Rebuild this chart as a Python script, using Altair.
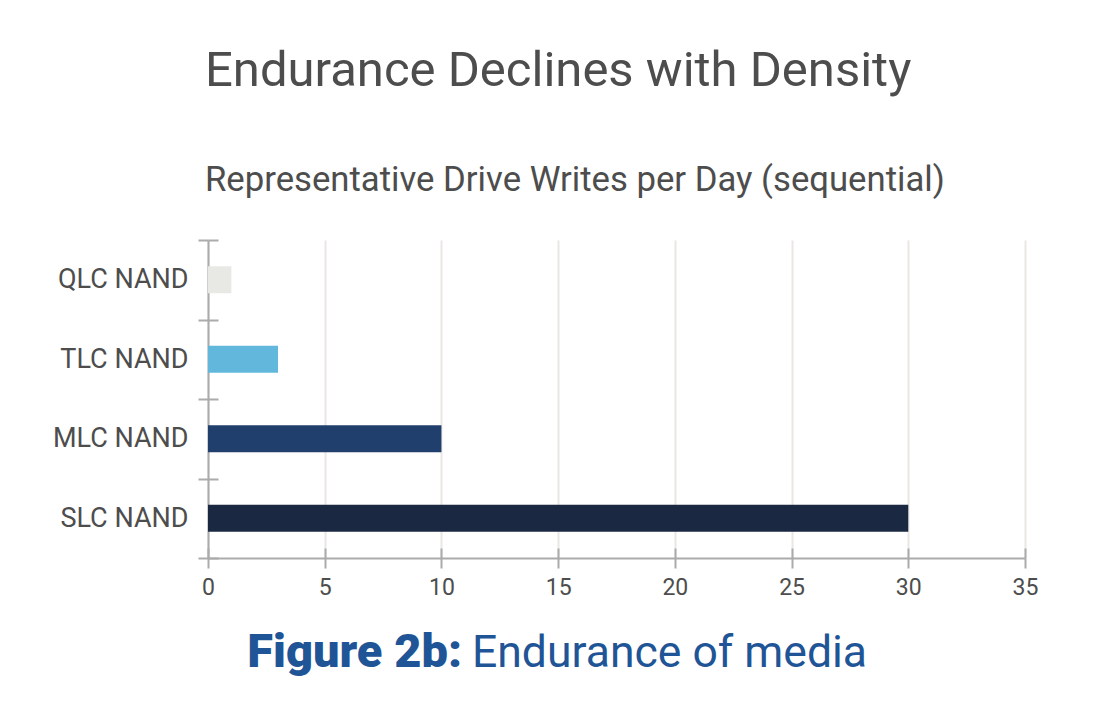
import altair as alt
import pandas as pd

categories = ["QLC NAND", "TLC NAND", "MLC NAND", "SLC NAND"]
values = [1, 3, 10, 30]
bar_colors = ["#e8e8e4", "#62b8dc", "#213f6d", "#1a2841"]
x_ticks = [0, 5, 10, 15, 20, 25, 30, 35]
title_text = "Endurance Declines with Density"
subtitle_text = "Representative Drive Writes per Day (sequential)"
caption_bold = "Figure 2b:"
caption_regular = "Endurance of media"

FONT = "Roboto"
AXIS_GRAY = "#ababab"
TEXT_GRAY = "#4d4d4d"
CAPTION_BLUE = "#1f5596"

df = pd.DataFrame({"cat": categories, "val": values})

x_scale = alt.Scale(domain=[0, 35], nice=False)
y_scale = alt.Scale(domain=categories, paddingInner=0, paddingOuter=0)

bars = alt.Chart(df).mark_bar(size=27).encode(
    x=alt.X("val:Q", scale=x_scale, title=None,
            axis=alt.Axis(orient="bottom", values=x_ticks, grid=True,
                          gridColor="#e9e7e3", gridWidth=2,
                          domainColor=AXIS_GRAY, domainWidth=2,
                          tickColor=AXIS_GRAY, tickWidth=2, tickSize=10,
                          labelFont=FONT, labelFontSize=23, labelColor=TEXT_GRAY,
                          labelFlush=False, labelPadding=8)),
    y=alt.Y("cat:N", scale=y_scale, sort=categories, title=None,
            axis=alt.Axis(orient="left", tickBand="extent", grid=False,
                          domainColor=AXIS_GRAY, domainWidth=2,
                          tickColor=AXIS_GRAY, tickWidth=2, tickSize=10,
                          labelFont=FONT, labelFontSize=27, labelColor=TEXT_GRAY,
                          labelPadding=10)),
    color=alt.Color("cat:N", scale=alt.Scale(domain=categories, range=bar_colors), legend=None),
)

inner_ticks = alt.Chart(df).mark_bar(size=27, opacity=0).encode(
    x=alt.X("val:Q", scale=x_scale, title=None,
            axis=alt.Axis(orient="bottom", offset=-10, values=x_ticks, grid=False,
                          domain=False, labels=False,
                          tickColor=AXIS_GRAY, tickWidth=2, tickSize=10)),
    y=alt.Y("cat:N", scale=y_scale, sort=categories, title=None,
            axis=alt.Axis(orient="left", offset=-10, tickBand="extent", grid=False,
                          domain=False, labels=False,
                          tickColor=AXIS_GRAY, tickWidth=2, tickSize=10)),
)

cap1 = alt.Chart(pd.DataFrame({"t": [caption_bold]})).mark_text(
    align="right", baseline="alphabetic", font=FONT, fontSize=47, fontWeight=900,
    color=CAPTION_BLUE,
).encode(x=alt.value(254), y=alt.value(427), text="t:N")

cap2 = alt.Chart(pd.DataFrame({"t": [caption_regular]})).mark_text(
    align="left", baseline="alphabetic", font=FONT, fontSize=44.5, fontWeight=400,
    color=CAPTION_BLUE,
).encode(x=alt.value(264), y=alt.value(427), text="t:N")

chart = alt.layer(bars, inner_ticks, cap1, cap2).resolve_axis(
    x="independent", y="independent"
).properties(
    width=817,
    height=318,
    padding={"left": 200, "top": 232, "right": 75, "bottom": 156},
    autosize=alt.AutoSizeParams(type="none"),
    title=alt.TitleParams(
        text=title_text,
        subtitle=subtitle_text,
        anchor="start",
        frame="group",
        dx=-3,
        offset=28,
        font=FONT,
        fontSize=49,
        fontWeight=400,
        color=TEXT_GRAY,
        subtitleFont=FONT,
        subtitleFontSize=34.7,
        subtitleColor=TEXT_GRAY,
        subtitlePadding=68,
    ),
).configure_view(stroke=None)

chart.save("out.html", embed_options={"renderer": "svg", "actions": False})
